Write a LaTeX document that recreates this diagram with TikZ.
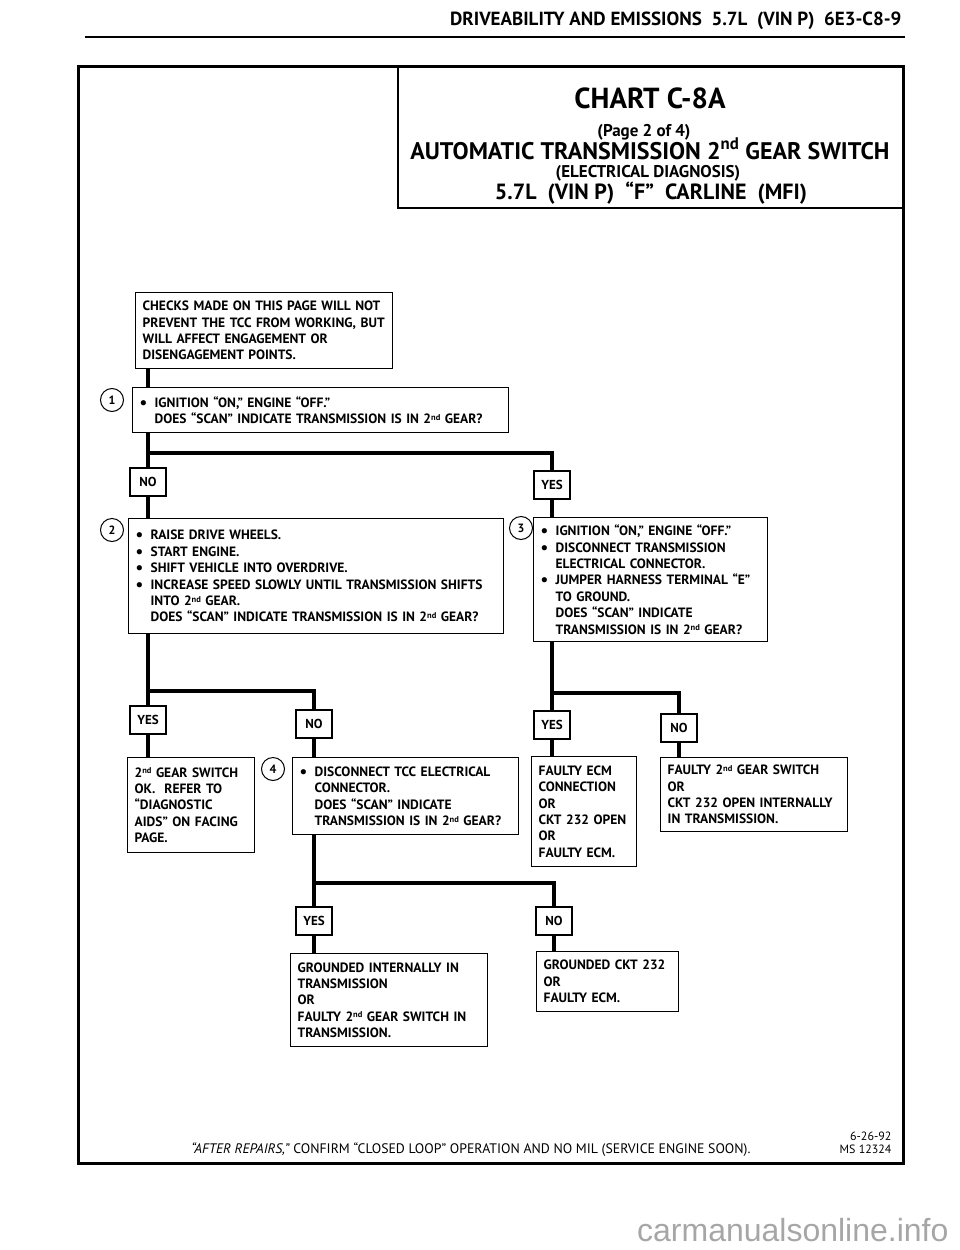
\documentclass[tikz,border=0pt]{standalone}
\usepackage{fontspec}
\setmainfont{PT Sans}
\newfontfamily\markfont{Liberation Sans}
\usetikzlibrary{positioning}
\hyphenpenalty=10000
\newcommand{\stepbul}{\makebox[15pt][l]{\raisebox{-1pt}{\fontsize{17}{16}\selectfont\textbullet}}}
\newcommand{\stepind}{\hspace*{15pt}}
\newcommand{\nd}{\raisebox{3.3pt}{\fontsize{8.5}{9}\selectfont nd}}

\begin{document}
\begin{tikzpicture}[x=1pt, y=-1pt,
		box/.style={draw, line width=1.3pt, fill=white, anchor=north west, align=left, inner xsep=7pt, inner ysep=2pt, font=\bfseries\fontsize{13.5}{16.4}\selectfont},
		answer/.style={draw, line width=1.3pt, fill=white, minimum width=36pt, minimum height=28pt, inner sep=0pt, font=\bfseries\fontsize{13}{14}\selectfont},
		stepno/.style={draw, circle, line width=1pt, minimum size=23pt, inner sep=0pt, font=\bfseries\fontsize{12}{13}\selectfont},
		title/.style={anchor=base, font=\bfseries\fontsize{#1}{#1}\selectfont},
		link/.style={line width=3.7pt},
	]
	\useasboundingbox (0,0) rectangle (960,1250);

	\node[anchor=base east, font=\bfseries\fontsize{19}{22}\selectfont] (header) at (905,25) {DRIVEABILITY AND EMISSIONS\ \ 5.7L\ \ (VIN P)\ \ 6E3-C8-9};
	\draw[line width=2pt] (85,37) -- (905,37);
	\draw[line width=3pt] (78,66) rectangle (903,1163);
	\draw[line width=1.3pt] (398,66) rectangle (903,208);

	\node[title=29] (chart) at (650,108) {CHART C-8A};
	\node[title=17] (page) at (644,136) {(Page 2 of 4)};
	\node[title=24] (subject) at (650,159) {AUTOMATIC TRANSMISSION 2\textsuperscript{nd} GEAR SWITCH};
	\node[title=17] (diag) at (648,177) {(ELECTRICAL DIAGNOSIS)};
	\node[title=22] (engine) at (651,199) {5.7L\ \ (VIN P)\ \ “F”\ \ CARLINE\ \ (MFI)};

	\node[box, text width=243pt, minimum height=76pt] (checks) at (135,292) {CHECKS MADE ON THIS PAGE WILL NOT\\PREVENT THE TCC FROM WORKING, BUT\\WILL AFFECT ENGAGEMENT OR\\DISENGAGEMENT POINTS.};

	\node[stepno] (c1) at (112,400) {1};
	\node[box, text width=362pt, minimum height=45pt] (step1) at (132,387) {\stepbul IGNITION “ON,” ENGINE “OFF.”\\\stepind DOES “SCAN” INDICATE TRANSMISSION IS IN 2\nd{} GEAR?};

	\node[answer] (no1) at (148,482) {NO};
	\node[answer] (yes1) at (552,485) {YES};

	\node[stepno] (c2) at (112,530) {2};
	\node[box, text width=361pt, minimum height=115pt] (step2) at (128,518) {\stepbul RAISE DRIVE WHEELS.\\\stepbul START ENGINE.\\\stepbul SHIFT VEHICLE INTO OVERDRIVE.\\\stepbul INCREASE SPEED SLOWLY UNTIL TRANSMISSION SHIFTS\\\stepind INTO 2\nd{} GEAR.\\\stepind DOES “SCAN” INDICATE TRANSMISSION IS IN 2\nd{} GEAR?};

	\node[stepno] (c3) at (521,528) {3};
	\node[box, text width=220pt, minimum height=124pt] (step3) at (533,517) {\stepbul IGNITION “ON,” ENGINE “OFF.”\\\stepbul DISCONNECT TRANSMISSION\\\stepind ELECTRICAL CONNECTOR.\\\stepbul JUMPER HARNESS TERMINAL “E”\\\stepind TO GROUND.\\\stepind DOES “SCAN” INDICATE\\\stepind TRANSMISSION IS IN 2\nd{} GEAR?};

	\node[answer] (yes2) at (148,720) {YES};
	\node[answer] (no2) at (314,724) {NO};
	\node[answer] (yes3) at (552,725) {YES};
	\node[answer] (no3) at (679,728) {NO};

	\node[box, text width=113pt, minimum height=95pt] (okbox) at (127,757) {2\nd{} GEAR SWITCH\\OK.\ \ REFER TO\\“DIAGNOSTIC\\AIDS” ON FACING\\PAGE.};
	\node[stepno] (c4) at (273,769) {4};
	\node[box, text width=212pt, minimum height=77pt] (step4) at (292,757) {\stepbul DISCONNECT TCC ELECTRICAL\\\stepind CONNECTOR.\\\stepind DOES “SCAN” INDICATE\\\stepind TRANSMISSION IS IN 2\nd{} GEAR?};
	\node[box, text width=91pt, minimum height=110pt] (ecmbox) at (531,756) {FAULTY ECM\\CONNECTION\\OR\\CKT 232 OPEN\\OR\\FAULTY ECM.};
	\node[box, text width=173pt, minimum height=74pt] (gearbox) at (660,757) {FAULTY 2\nd{} GEAR SWITCH\\OR\\CKT 232 OPEN INTERNALLY\\IN TRANSMISSION.};

	\node[answer] (yes4) at (314,921) {YES};
	\node[answer] (no4) at (554,921) {NO};

	\node[box, text width=183pt, minimum height=93pt] (gndbox) at (290,953) {GROUNDED INTERNALLY IN\\TRANSMISSION\\OR\\FAULTY 2\nd{} GEAR SWITCH IN\\TRANSMISSION.};
	\node[box, text width=128pt, minimum height=60pt] (ckt) at (536,951) {GROUNDED CKT 232\\OR\\FAULTY ECM.};

	\coordinate (fork1) at (148,453);
	\coordinate (fork2) at (148,691);
	\coordinate (fork3) at (552,693);
	\coordinate (fork4) at (314,883);

	\draw[link] (checks.south -| no1) -- (step1.north -| no1);
	\draw[link] (step1.south -| no1) -- (no1);
	\draw[link] (fork1) -| (yes1);
	\draw[link] (no1) -- (step2.north -| no1);
	\draw[link] (yes1) -- (step3.north -| yes1);
	\draw[link] (step2.south -| yes2) -- (yes2);
	\draw[link] (fork2) -| (no2);
	\draw[link] (step3.south -| yes3) -- (yes3);
	\draw[link] (fork3) -| (no3);
	\draw[link] (yes2) -- (okbox.north -| yes2);
	\draw[link] (no2) -- (step4.north -| no2);
	\draw[link] (yes3) -- (ecmbox.north -| yes3);
	\draw[link] (no3) -- (gearbox.north -| no3);
	\draw[link] (step4.south -| yes4) -- (yes4);
	\draw[link] (fork4) -| (no4);
	\draw[link] (yes4) -- (gndbox.north -| yes4);
	\draw[link] (no4) -- (ckt.north -| no4);

	\node[anchor=base, font=\fontsize{13.8}{15}\selectfont] (repairs) at (471,1153) {\textit{“AFTER REPAIRS,”} CONFIRM “CLOSED LOOP” OPERATION AND NO MIL (SERVICE ENGINE SOON).};
	\node[anchor=east, align=right, font=\fontsize{12}{13}\selectfont] (stamp) at (895,1143) {6-26-92\\MS 12324};
	\node[anchor=east, text=gray!70, font=\markfont\fontsize{32}{36}\selectfont] (mark) at (952,1230) {carmanualsonline.info};
\end{tikzpicture}
\end{document}
